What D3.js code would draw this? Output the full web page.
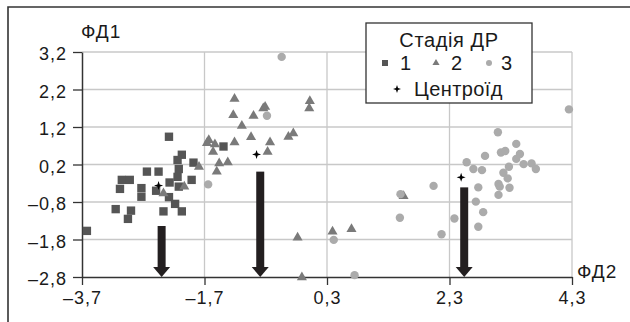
<!DOCTYPE html>
<html>
<head>
<meta charset="utf-8">
<script src="https://cdn.jsdelivr.net/npm/d3@7"></script>
<style>
  body { margin: 0; background: #fff; }
  text { font-family: "Liberation Sans", Arial, sans-serif; fill: #1a1a1a; }
</style>
</head>
<body>
<div id="chart"></div>
<script>
// tick values
var xTicks = [-3.7, -1.7, 0.3, 2.3, 4.3];
var yTicks = [-2.8, -1.8, -0.8, 0.2, 1.2, 2.2, 3.2];

// stage 1 (squares)
var stage1 = [
  [-2.28, 0.94], [-2.07, 0.46], [-2.14, 0.32], [-1.88, 0.25], [-2.64, 0.01],
  [-2.45, 0.01], [-2.12, 0.08], [-2.14, -0.13], [-3.05, -0.21], [-2.92, -0.21],
  [-1.91, -0.21], [-2.27, -0.28], [-3.08, -0.45], [-2.73, -0.43], [-2.12, -0.39],
  [-2.49, -0.50], [-2.73, -0.66], [-2.28, -0.67], [-2.18, -0.85], [-3.15, -0.99],
  [-2.90, -1.03], [-2.95, -1.25], [-2.37, -1.05], [-2.07, -1.05], [-3.62, -1.57],
  [-1.39, 0.68]
];
// stage 2 (triangles)
var stage2 = [
  [-1.21, 1.95], [-1.23, 1.52], [-0.90, 1.50], [-0.74, 1.70], [-0.71, 1.74],
  [-1.09, 1.23], [0.02, 1.89], [0.01, 1.70], [-1.63, 0.85], [-1.66, 0.77],
  [-1.53, 0.74], [-1.56, 0.54], [-1.21, 0.79], [-0.94, 0.93], [-0.63, 0.79],
  [-0.67, 0.54], [-0.33, 0.94], [-0.25, 1.03], [-1.46, 0.23], [-1.32, 0.26],
  [-1.50, 0.01], [-1.79, 0.14], [-0.18, -1.75], [-0.11, -2.81], [-2.03, -0.39],
  [-2.37, -0.57], [0.39, -1.59], [0.70, -1.52], [1.55, -0.64]
];
// stage 3 (circles)
var stage3 = [
  [-0.44, 3.07], [-0.68, 1.50], [-1.64, -0.33], [1.50, -0.59], [2.04, -0.37],
  [1.49, -1.22], [2.17, -1.66], [0.41, -1.81], [0.75, -2.75], [2.38, -1.24],
  [4.25, 1.67], [3.09, 1.06], [3.39, 0.75], [3.14, 0.52], [3.21, 0.56],
  [3.45, 0.48], [3.39, 0.35], [2.88, 0.43], [2.58, 0.26], [2.69, 0.08],
  [2.83, 0.05], [3.27, 0.14], [3.51, 0.21], [3.64, 0.23], [3.71, 0.08],
  [3.18, -0.02], [3.25, -0.17], [3.10, -0.32], [3.12, -0.39], [3.28, -0.42],
  [2.77, -0.41], [3.10, -0.61], [2.73, -0.79], [2.85, -1.07], [2.77, -1.46]
];
var centroids = [[-2.45, -0.36], [-0.85, 0.47], [2.49, -0.14]];
// arrows: x position and top of the shaft (they point down to the x axis)
var arrows = [[-2.40, -1.44], [-0.79, 0.01], [2.54, -0.41]];

var W = 630, H = 322;
var svg = d3.select("#chart").append("svg")
  .attr("width", W).attr("height", H);

var x = d3.scaleLinear().domain([-3.7, 4.3]).range([82, 572]);
var y = d3.scaleLinear().domain([-2.8, 3.2]).range([277, 52]);

var fmt = function(d) {
  return d3.format(".1f")(d).replace(".", ",").replace("-", "\u2013").replace("\u2212", "\u2013");
};

// outer frame (top and left edges only)
svg.append("path")
  .attr("d", "M8,322V7H630")
  .attr("fill", "none").attr("stroke", "#333").attr("stroke-width", 1.6);

// grid
svg.append("g").selectAll("line")
  .data(yTicks.slice(1)).enter().append("line")
  .attr("x1", x(-3.7)).attr("x2", x(4.3))
  .attr("y1", function(d) { return y(d); }).attr("y2", function(d) { return y(d); })
  .attr("stroke", "#c8c8c8").attr("stroke-width", 1.3);
svg.append("g").selectAll("line")
  .data(xTicks.slice(1)).enter().append("line")
  .attr("y1", y(-2.8)).attr("y2", y(3.2))
  .attr("x1", function(d) { return x(d); }).attr("x2", function(d) { return x(d); })
  .attr("stroke", "#c8c8c8").attr("stroke-width", 1.3);

// axes
var gx = svg.append("g")
  .attr("transform", "translate(0," + y(-2.8) + ")")
  .call(d3.axisBottom(x).tickValues(xTicks).tickFormat(fmt).tickSize(8).tickPadding(6).tickSizeOuter(0));
var gy = svg.append("g")
  .attr("transform", "translate(" + x(-3.7) + ",0)")
  .call(d3.axisLeft(y).tickValues(yTicks).tickFormat(fmt).tickSize(9).tickPadding(6).tickSizeOuter(0));
[gx, gy].forEach(function(g) {
  g.select(".domain").attr("stroke", "#333").attr("stroke-width", 1.5);
  g.selectAll(".tick line").attr("stroke", "#333").attr("stroke-width", 1.3);
  g.selectAll(".tick text").style("font-size", "18px").style("letter-spacing", "1px")
    .attr("fill", "#1a1a1a");
});
gy.selectAll(".tick text").attr("dy", "0.42em");

// axis titles
svg.append("text").attr("x", 81).attr("y", 38).style("font-size", "19px")
  .style("letter-spacing", "1px").text("ФД1");
svg.append("text").attr("x", 577).attr("y", 278).style("font-size", "19px")
  .style("letter-spacing", "1px").text("ФД2");

// arrows
var arrowCol = "#231f20";
arrows.forEach(function(a) {
  var cx = x(a[0]), top = y(a[1]), tip = y(-2.8), headTop = tip - 10;
  svg.append("rect")
    .attr("x", cx - 4).attr("y", top).attr("width", 8).attr("height", headTop - top + 1)
    .attr("fill", arrowCol);
  svg.append("path")
    .attr("d", "M" + (cx - 8.5) + "," + headTop + "H" + (cx + 8.5) + "L" + cx + "," + tip + "Z")
    .attr("fill", arrowCol);
});

// symbols
var sq = d3.symbol().type(d3.symbolSquare).size(70);
var tri = d3.symbol().type(d3.symbolTriangle).size(44);
var star = function(r) {
  var a = r * 0.25;
  return "M0," + (-r) + "L" + a + "," + (-a) + "L" + r + ",0L" + a + "," + a +
    "L0," + r + "L" + (-a) + "," + a + "L" + (-r) + ",0L" + (-a) + "," + (-a) + "Z";
};
var col1 = "#555555", col2 = "#7a7a7a", col3 = "#ababab";

svg.append("g").selectAll("path").data(stage1).enter().append("path")
  .attr("d", sq)
  .attr("transform", function(d) { return "translate(" + x(d[0]) + "," + y(d[1]) + ")"; })
  .attr("fill", col1);
svg.append("g").selectAll("path").data(stage2).enter().append("path")
  .attr("d", tri)
  .attr("transform", function(d) { return "translate(" + x(d[0]) + "," + y(d[1]) + ")"; })
  .attr("fill", col2);
svg.append("g").selectAll("circle").data(stage3).enter().append("circle")
  .attr("cx", function(d) { return x(d[0]); }).attr("cy", function(d) { return y(d[1]); })
  .attr("r", 4.2).attr("fill", col3);
svg.append("g").selectAll("path").data(centroids).enter().append("path")
  .attr("d", star(4.5))
  .attr("transform", function(d) { return "translate(" + x(d[0]) + "," + y(d[1]) + ")"; })
  .attr("fill", "#000");

// legend
var lg = svg.append("g");
lg.append("rect").attr("x", 366).attr("y", 23).attr("width", 166).attr("height", 80)
  .attr("fill", "#fff").attr("stroke", "#333").attr("stroke-width", 1.3);
lg.append("text").attr("x", 449).attr("y", 47).attr("text-anchor", "middle")
  .style("font-size", "20px").style("letter-spacing", "0.6px").text("Стадія ДР");
lg.append("path").attr("d", d3.symbol().type(d3.symbolSquare).size(36)())
  .attr("transform", "translate(385,63)").attr("fill", col1);
lg.append("text").attr("x", 400).attr("y", 70).style("font-size", "20px").text("1");
lg.append("path").attr("d", d3.symbol().type(d3.symbolTriangle).size(22)())
  .attr("transform", "translate(436,63)").attr("fill", col2);
lg.append("text").attr("x", 451).attr("y", 70).style("font-size", "20px").text("2");
lg.append("circle").attr("cx", 489).attr("cy", 63).attr("r", 3).attr("fill", col3);
lg.append("text").attr("x", 501).attr("y", 70).style("font-size", "20px").text("3");
lg.append("path").attr("d", star(4)).attr("transform", "translate(397,89)").attr("fill", "#000");
lg.append("text").attr("x", 414).attr("y", 96).style("font-size", "20px")
  .style("letter-spacing", "0.4px").text("Центроїд");
</script>
</body>
</html>
